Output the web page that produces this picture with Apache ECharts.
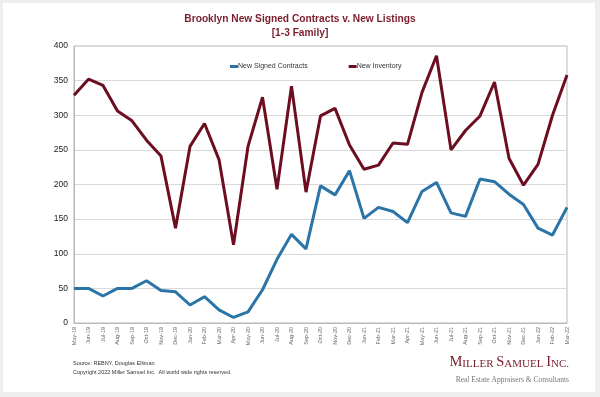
<!DOCTYPE html>
<html><head><meta charset="utf-8">
<script src="https://cdn.jsdelivr.net/npm/echarts@6/dist/echarts.min.js"></script>
<style>html,body{margin:0;padding:0;background:#eeeeee;}#c{width:600px;height:397px;}</style>
</head><body><div id="c"></div>
<script>
const months = ["May-19","Jun-19","Jul-19","Aug-19","Sep-19","Oct-19","Nov-19","Dec-19","Jan-20","Feb-20","Mar-20","Apr-20","May-20","Jun-20","Jul-20","Aug-20","Sep-20","Oct-20","Nov-20","Dec-20","Jan-21","Feb-21","Mar-21","Apr-21","May-21","Jun-21","Jul-21","Aug-21","Sep-21","Oct-21","Nov-21","Dec-21","Jan-22","Feb-22","Mar-22"];
const signedContracts = [50,50,39,50,50,61,47,45,26,38,19,8,16,48,92,128,107,198,185,220,151,167,161,145,190,203,159,154,208,204,186,171,137,127,167];
const newInventory = [329,352,343,306,292,264,241,137,255,288,236,113,255,326,193,342,189,299,310,257,222,228,260,258,333,386,250,278,299,348,238,199,229,300,358];
const yTicks = [0,50,100,150,200,250,300,350,400];
const titleLines = ["Brooklyn New Signed Contracts v. New Listings","[1-3 Family]"];

const chart = echarts.init(document.getElementById('c'), null, {renderer:'canvas'});
chart.setOption({
  backgroundColor:'#eeeeee',
  animation:false,
  title:{
    text:titleLines.join('\n'), left:'center', top:7,
    textStyle:{fontFamily:'Liberation Sans, Arial, sans-serif', fontSize:10.2, fontWeight:'bold', color:'#7a1c2c', lineHeight:14}
  },
  legend:{
    top:58, left:225, itemGap:41, itemWidth:8, itemHeight:3, icon:'rect',
    textStyle:{fontFamily:'Liberation Sans, Arial, sans-serif', fontSize:7, color:'#333', padding:[0,0,0,-5]},
    data:['New Signed Contracts','New Inventory']
  },
  grid:{left:74, right:33, top:46, bottom:74, show:true, borderColor:'#b8b8b8', borderWidth:1, backgroundColor:'#ffffff'},
  xAxis:{
    type:'category', data:months, boundaryGap:false,
    axisLine:{lineStyle:{color:'#b8b8b8'}}, axisTick:{show:false},
    axisLabel:{rotate:90, fontSize:5.5, color:'#666', margin:4, interval:0, fontFamily:'Liberation Sans, Arial, sans-serif'}
  },
  yAxis:{
    type:'value', min:yTicks[0], max:yTicks[yTicks.length-1], interval:50,
    axisLine:{show:true, lineStyle:{color:'#b8b8b8'}}, axisTick:{show:false},
    splitLine:{lineStyle:{color:'#d9d9d9'}},
    axisLabel:{fontSize:8.5, color:'#222', margin:6, fontFamily:'Liberation Sans, Arial, sans-serif'}
  },
  series:[
    {name:'New Signed Contracts', type:'line', data:signedContracts, symbol:'none', lineStyle:{width:3, color:'#2b74a8'}, itemStyle:{color:'#2b74a8'}},
    {name:'New Inventory', type:'line', data:newInventory, symbol:'none', lineStyle:{width:3, color:'#6c0e1f'}, itemStyle:{color:'#6c0e1f'}}
  ],
  graphic:[
    {type:'rect', z:-10, shape:{x:3,y:3,width:592,height:389}, style:{fill:'#ffffff'}, silent:true},
    {type:'text', left:73, top:360, style:{text:'Source: REBNY, Douglas Elliman', fontSize:5.5, fill:'#333', fontFamily:'Liberation Sans, Arial, sans-serif'}},
    {type:'text', left:73, top:369, style:{text:'Copyright 2022 Miller Samuel Inc.  All world wide rights reserved.', fontSize:5.5, fill:'#333', fontFamily:'Liberation Sans, Arial, sans-serif'}},
    {type:'text', right:31, top:355, style:{
      text:'{b|M}{s|ILLER }{b|S}{s|AMUEL }{b|I}{s|NC.}',
      rich:{
        b:{fontSize:14.5, fontFamily:'Liberation Serif, Times New Roman, serif', fill:'#7a1c2c', verticalAlign:'bottom'},
        s:{fontSize:11, fontFamily:'Liberation Serif, Times New Roman, serif', fill:'#7a1c2c', verticalAlign:'bottom'}
      }}},
    {type:'text', right:31, top:376, style:{text:'Real Estate Appraisers & Consultants', fontSize:7.5, fill:'#777', fontFamily:'Liberation Serif, Times New Roman, serif'}}
  ]
});
</script></body></html>
